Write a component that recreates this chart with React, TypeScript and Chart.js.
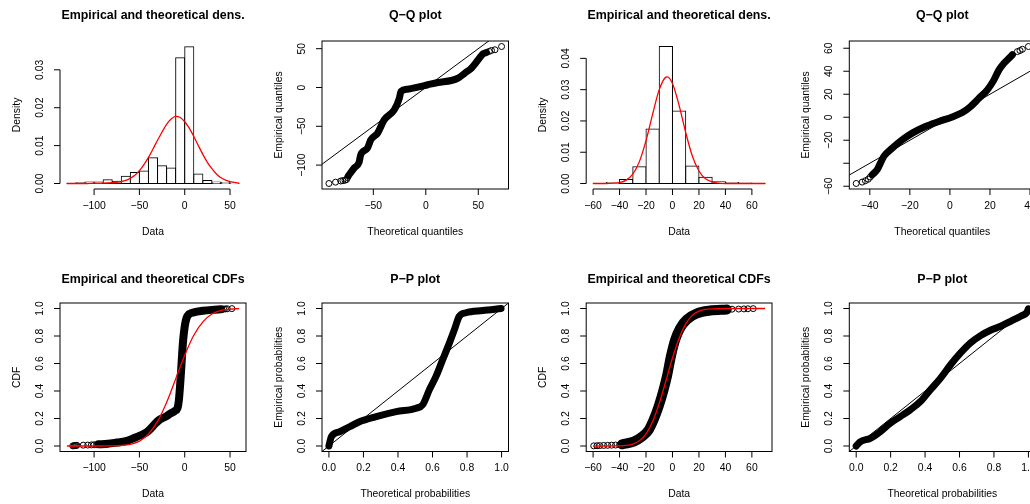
import React, { useEffect, useRef } from "react";
import { Chart, registerables } from "chart.js";

Chart.register(...registerables);

const FONT = '"Liberation Sans", Arial, Helvetica, sans-serif';
const MINUS = "\u2212";

// ---------- Sample A (left-skewed), normal fit ----------
const histMidsA = [-125, -115, -105, -95, -85, -75, -65, -55, -45, -35, -25, -15, -5, 5, 15, 25, 35, 45, 55];
const histDensA = [0.0001, 0.0002, 0.0004, 0.0004, 0.001, 0.0006, 0.0019, 0.0029, 0.0033, 0.0068, 0.0047, 0.0041, 0.0332, 0.0361, 0.0025, 0.0008, 0.0004, 0.00025, 0.0001];
const fitDensXA = [-130, -120, -110, -100, -90, -80, -70, -65, -60, -55, -50, -45, -40, -35, -30, -25, -20, -15, -10, -5, 0, 5, 10, 15, 20, 25, 30, 35, 40, 45, 50, 55, 60];
const fitDensYA = [0, 0, 0, 0.0001, 0.0001, 0.0002, 0.0005, 0.0008, 0.0014, 0.0022, 0.0034, 0.005, 0.0069, 0.0091, 0.0114, 0.0136, 0.0156, 0.017, 0.0177, 0.0174, 0.0163, 0.0146, 0.0124, 0.01, 0.0077, 0.0056, 0.0039, 0.0025, 0.0015, 0.0009, 0.0005, 0.0003, 0.0001];

const qqTheoA = [-73.8, -68.4, -63.6, -62, -55.6, -52.4, -46, -39.6, -30, -25.2, -23.7, -17.3, -7.7, 1.9, 11.5, 24.3, 30.7, 37.1, 43.4, 49.9, 54.6, 57.8];
const qqEmpA = [-113.8, -104, -96.6, -86.7, -78.2, -67.4, -58.9, -41.6, -28.7, -13.8, -5.2, -2.2, 0.4, 3.5, 6.4, 9, 12, 18.4, 24.9, 35.7, 43.4, 45.1];
const qqTailTheoA = [-92.3, -86, -81, -79, -77, -75.5, -74.5, 60.5, 62.6, 65.9, 72.2];
const qqTailEmpA = [-123.7, -122, -120.5, -120, -119.5, -118.5, -116, 46.5, 47.7, 48.6, 52.8];

const ecdfXA = [-95, -85, -75, -65, -55, -48, -42, -37, -33, -28, -22, -16, -11, -8, -6.5, -5, -3.5, -2, 0, 2, 5, 10, 20, 30, 40];
const ecdfYA = [0.012, 0.016, 0.025, 0.035, 0.06, 0.08, 0.1, 0.13, 0.16, 0.19, 0.21, 0.235, 0.255, 0.275, 0.33, 0.45, 0.6, 0.75, 0.87, 0.93, 0.96, 0.972, 0.983, 0.99, 0.995];
const ecdfTailXA = [-123.5, -122, -121, -120, -119, -112, -107, -103, -100, -97, 40, 43, 45, 47, 52];
const ecdfTailYA = [0.001, 0.002, 0.003, 0.004, 0.005, 0.006, 0.007, 0.008, 0.009, 0.01, 0.995, 0.996, 0.997, 0.998, 0.999];
const fitCdfXA = [-130, -100, -80, -70, -60, -50, -40, -30, -20, -10, 0, 10, 20, 30, 40, 50, 60];
const fitCdfYA = [0, 0.0001, 0.0008, 0.0035, 0.012, 0.035, 0.087, 0.179, 0.317, 0.488, 0.66, 0.805, 0.903, 0.96, 0.986, 0.996, 0.999];

const ppTheoA = [0, 0.014, 0.062, 0.12, 0.177, 0.274, 0.39, 0.505, 0.543, 0.582, 0.62, 0.659, 0.698, 0.727, 0.755, 0.794, 0.89, 0.997];
const ppEmpA = [0, 0.068, 0.104, 0.14, 0.177, 0.214, 0.25, 0.275, 0.3, 0.41, 0.506, 0.628, 0.75, 0.847, 0.944, 0.969, 0.985, 1.0];

// ---------- Sample B (near-symmetric), normal fit ----------
const histMidsB = [-55, -45, -35, -25, -15, -5, 5, 15, 25, 35, 45, 55, 65];
const histDensB = [0.0001, 0.0003, 0.0013, 0.0054, 0.0174, 0.0438, 0.0232, 0.0056, 0.002, 0.0006, 0.0003, 0.0002, 0.0001];
const fitDensXB = [-60, -50, -45, -40, -35, -30, -25, -20, -15, -10, -5, -4, 0, 5, 10, 15, 20, 25, 30, 35, 40, 50, 60, 70];
const fitDensYB = [0, 0, 0.0001, 0.0003, 0.0011, 0.003, 0.007, 0.0137, 0.0222, 0.03, 0.034, 0.0341, 0.032, 0.025, 0.0163, 0.0088, 0.004, 0.0015, 0.0005, 0.0001, 0, 0, 0, 0];

const qqTheoB = [-38.8, -36.3, -34.7, -33, -28.8, -23.8, -18.8, -12.2, -5.5, 1.2, 6.2, 10.3, 14.5, 18.7, 22, 24.5, 27, 29.5, 31.2];
const qqEmpB = [-50, -45.6, -39.9, -34, -26.9, -19.6, -13.8, -8, -3.7, 0.3, 4.1, 9.3, 16.5, 23.8, 32.5, 41.2, 47, 51.3, 54.3];
const qqTailTheoB = [-46.8, -43.8, -42.2, -40.8, -39.8, 33.7, 35, 36.2, 39.2];
const qqTailEmpB = [-57.6, -56.4, -55.2, -53.9, -52, 57.1, 58, 59.1, 61.5];

const ecdfXB = [-38, -36.9, -29.4, -23, -18, -14.3, -10.5, -6.7, -4.2, -1.2, 2.1, 5.9, 10.9, 18.5, 28.5, 41];
const ecdfYB = [0.012, 0.015, 0.031, 0.068, 0.117, 0.19, 0.287, 0.41, 0.506, 0.652, 0.774, 0.859, 0.92, 0.964, 0.985, 0.993];
const ecdfTailXB = [-59.5, -57, -55, -52, -49, -46, -43, -40, 45, 50, 54, 57, 61];
const ecdfTailYB = [0.001, 0.002, 0.003, 0.004, 0.005, 0.006, 0.007, 0.009, 0.995, 0.996, 0.997, 0.998, 0.999];
const fitCdfXB = [-60, -40, -35, -30, -25, -20, -15, -10, -5, 0, 5, 10, 15, 20, 25, 30, 40, 70];
const fitCdfYB = [0, 0.0011, 0.004, 0.0136, 0.0377, 0.0885, 0.178, 0.31, 0.473, 0.64, 0.784, 0.888, 0.95, 0.981, 0.994, 0.998, 1, 1];

const ppTheoB = [0, 0.023, 0.082, 0.14, 0.198, 0.256, 0.314, 0.373, 0.431, 0.49, 0.548, 0.606, 0.664, 0.722, 0.78, 0.839, 0.897, 0.955, 0.99, 1.0];
const ppEmpB = [0, 0.03, 0.056, 0.104, 0.166, 0.214, 0.263, 0.323, 0.409, 0.494, 0.591, 0.677, 0.75, 0.803, 0.842, 0.871, 0.907, 0.944, 0.97, 0.998];

// ---------- tick values ----------
const ticksDataA = [-100, -50, 0, 50];
const ticksDensA = [0, 0.01, 0.02, 0.03];
const ticksQqA = [-50, 0, 50];
const ticksQqEmpA = [-100, -50, 0, 50];
const ticksDataB = [-60, -40, -20, 0, 20, 40, 60];
const ticksDensB = [0, 0.01, 0.02, 0.03, 0.04];
const ticksQqB = [-40, -20, 0, 20, 40];
const ticksQqEmpB = [-60, -40, -20, 0, 20, 40, 60];
const ticksProb = [0, 0.2, 0.4, 0.6, 0.8, 1];

const zip = (xs: number[], ys: number[]) => xs.map((x, i) => ({ x, y: ys[i] }));
const fmtInt = (v: number) => (v < 0 ? MINUS + Math.abs(v) : String(v));
const fmtFix = (d: number) => (v: number) => v.toFixed(d);

type PanelSpec = {
  plot: [number, number, number, number];
  xRange: [number, number];
  yRange: [number, number];
  xTicks: number[];
  yTicks: number[];
  xFmt: (v: number) => string;
  yFmt: (v: number) => string;
  ySkip?: number[];
  title: string;
  xTitle: string;
  yTitle: string;
  framed: boolean;
  kind: "bar" | "scatter";
  datasets: any[];
  titleGap: number;
};

const TICK = 6;
const AXIS_FONT = `10.4px ${FONT}`;
const TITLE_FONT = `bold 12.4px ${FONT}`;

// R-style frame, axes, tick labels and titles drawn from the chart's own scales
function decor(spec: PanelSpec) {
  return {
    id: "decor",
    afterDatasetsDraw(chart: any) {
      const ctx: CanvasRenderingContext2D = chart.ctx;
      const { left, top, right, bottom } = chart.chartArea;
      const xs = chart.scales.x;
      const ys = chart.scales.y;
      ctx.save();
      ctx.strokeStyle = "#000";
      ctx.fillStyle = "#000";
      ctx.lineWidth = 1;
      if (spec.framed) ctx.strokeRect(left, top, right - left, bottom - top);

      const xp = spec.xTicks.map((v) => xs.getPixelForValue(v));
      const yp = spec.yTicks.map((v) => ys.getPixelForValue(v));
      ctx.beginPath();
      if (!spec.framed) {
        ctx.moveTo(xp[0], bottom);
        ctx.lineTo(xp[xp.length - 1], bottom);
        ctx.moveTo(left, yp[0]);
        ctx.lineTo(left, yp[yp.length - 1]);
      }
      xp.forEach((p) => {
        ctx.moveTo(p, bottom);
        ctx.lineTo(p, bottom + TICK);
      });
      yp.forEach((p) => {
        ctx.moveTo(left, p);
        ctx.lineTo(left - TICK, p);
      });
      ctx.stroke();

      ctx.font = AXIS_FONT;
      ctx.textAlign = "center";
      ctx.textBaseline = "middle";
      spec.xTicks.forEach((v, i) => ctx.fillText(spec.xFmt(v), xp[i], bottom + 17));
      spec.yTicks.forEach((v, i) => {
        if (spec.ySkip && spec.ySkip.includes(v)) return;
        ctx.save();
        ctx.translate(left - 20, yp[i]);
        ctx.rotate(-Math.PI / 2);
        ctx.fillText(spec.yFmt(v), 0, 0);
        ctx.restore();
      });

      const cx = (left + right) / 2;
      const cy = (top + bottom) / 2;
      ctx.fillText(spec.xTitle, cx, bottom + 43);
      ctx.save();
      ctx.translate(left - 43, cy);
      ctx.rotate(-Math.PI / 2);
      ctx.fillText(spec.yTitle, 0, 0);
      ctx.restore();

      ctx.font = TITLE_FONT;
      ctx.textBaseline = "alphabetic";
      ctx.fillText(spec.title, cx, top - spec.titleGap);
      ctx.restore();
    },
  };
}

function Panel({ spec }: { spec: PanelSpec }) {
  const ref = useRef<HTMLCanvasElement>(null);
  const [l, t, r, b] = spec.plot;
  const cLeft = Math.floor(l - 75);
  const cTop = Math.floor(t - 45);
  const width = Math.ceil(r + 14) - cLeft;
  const height = Math.ceil(b + 60) - cTop;

  useEffect(() => {
    const chart = new Chart(ref.current as HTMLCanvasElement, {
      type: spec.kind,
      data: { datasets: spec.datasets },
      options: {
        responsive: false,
        animation: false,
        devicePixelRatio: 1,
        events: [],
        layout: {
          padding: { left: l - cLeft, top: t - cTop, right: cLeft + width - r, bottom: cTop + height - b },
        },
        plugins: { legend: { display: false }, tooltip: { enabled: false }, title: { display: false } },
        scales: {
          x: { type: "linear", display: false, offset: false, min: spec.xRange[0], max: spec.xRange[1], ticks: { stepSize: 1000 }, grid: { display: false } },
          y: { type: "linear", display: false, min: spec.yRange[0], max: spec.yRange[1], ticks: { stepSize: 1000 }, grid: { display: false } },
        },
      } as any,
      plugins: [decor(spec)],
    });
    return () => chart.destroy();
  }, []);

  return (
    <canvas
      ref={ref}
      width={width}
      height={height}
      style={{ position: "absolute", left: cLeft, top: cTop, width, height }}
    />
  );
}

const histSet = (mids: number[], dens: number[]) => ({
  type: "bar",
  data: zip(mids, dens),
  backgroundColor: "#ffffff",
  borderColor: "#000000",
  borderWidth: 1,
  borderSkipped: false,
  inflateAmount: 0.5,
  barPercentage: 1,
  categoryPercentage: 1,
  order: 2,
});
const redLine = (xs: number[], ys: number[]) => ({
  type: "line",
  data: zip(xs, ys),
  borderColor: "#ff0000",
  borderWidth: 1.3,
  pointRadius: 0,
  cubicInterpolationMode: "monotone",
  fill: false,
  clip: 0,
  order: 0,
});
const band = (xs: number[], ys: number[], w = 7) => ({
  type: "line",
  data: zip(xs, ys),
  borderColor: "#000000",
  borderWidth: w,
  borderCapStyle: "round",
  borderJoinStyle: "round",
  pointRadius: 0,
  cubicInterpolationMode: "monotone",
  fill: false,
  clip: 0,
  order: 2,
});
const circles = (xs: number[], ys: number[]) => ({
  type: "scatter",
  data: zip(xs, ys),
  showLine: false,
  pointStyle: "circle",
  pointRadius: 3,
  pointBorderWidth: 1,
  pointBorderColor: "#000000",
  pointBackgroundColor: "rgba(0,0,0,0)",
  clip: 0,
  order: 2,
});
const diagonal = (lo: number, hi: number) => ({
  type: "line",
  data: [
    { x: lo, y: lo },
    { x: hi, y: hi },
  ],
  borderColor: "#000000",
  borderWidth: 1,
  pointRadius: 0,
  fill: false,
  clip: 0,
  order: 0,
});

const COLS: [number, number][] = [
  [60, 246],
  [322, 508.5],
  [586.2, 772],
  [849.3, 1035.3],
];
const ROWS: [number, number][] = [
  [41, 189],
  [303, 451.5],
];
const box = (c: number, r: number): [number, number, number, number] => [COLS[c][0], ROWS[r][0], COLS[c][1], ROWS[r][1]];

const PANELS: PanelSpec[] = [
  {
    plot: box(0, 0), xRange: [-137.6, 67.6], yRange: [-0.00145, 0.0376],
    xTicks: ticksDataA, yTicks: ticksDensA, xFmt: fmtInt, yFmt: fmtFix(2),
    title: "Empirical and theoretical dens.", xTitle: "Data", yTitle: "Density",
    framed: false, kind: "bar", titleGap: 22,
    datasets: [redLine(fitDensXA, fitDensYA), histSet(histMidsA, histDensA)],
  },
  {
    plot: box(1, 0), xRange: [-98.9, 78.8], yRange: [-130.8, 59.9],
    xTicks: ticksQqA, yTicks: ticksQqEmpA, xFmt: fmtInt, yFmt: fmtInt,
    title: "Q\u2212Q plot", xTitle: "Theoretical quantiles", yTitle: "Empirical quantiles",
    framed: true, kind: "scatter", titleGap: 22,
    datasets: [diagonal(-300, 300), band(qqTheoA, qqEmpA), circles(qqTailTheoA, qqTailEmpA)],
  },
  {
    plot: box(2, 0), xRange: [-65.2, 75.2], yRange: [-0.00175, 0.04555],
    xTicks: ticksDataB, yTicks: ticksDensB, xFmt: fmtInt, yFmt: fmtFix(2),
    title: "Empirical and theoretical dens.", xTitle: "Data", yTitle: "Density",
    framed: false, kind: "bar", titleGap: 22,
    datasets: [redLine(fitDensXB, fitDensYB), histSet(histMidsB, histDensB)],
  },
  {
    plot: box(3, 0), xRange: [-50.24, 42.64], yRange: [-62.4, 66.3],
    xTicks: ticksQqB, yTicks: ticksQqEmpB, xFmt: fmtInt, yFmt: fmtInt, ySkip: [-40],
    title: "Q\u2212Q plot", xTitle: "Theoretical quantiles", yTitle: "Empirical quantiles",
    framed: true, kind: "scatter", titleGap: 22,
    datasets: [diagonal(-300, 300), band(qqTheoB, qqEmpB), circles(qqTailTheoB, qqTailEmpB)],
  },
  {
    plot: box(0, 1), xRange: [-137.6, 67.6], yRange: [-0.04, 1.04],
    xTicks: ticksDataA, yTicks: ticksProb, xFmt: fmtInt, yFmt: fmtFix(1),
    title: "Empirical and theoretical CDFs", xTitle: "Data", yTitle: "CDF",
    framed: true, kind: "scatter", titleGap: 20,
    datasets: [redLine(fitCdfXA, fitCdfYA), band(ecdfXA, ecdfYA, 8), circles(ecdfTailXA, ecdfTailYA)],
  },
  {
    plot: box(1, 1), xRange: [-0.04, 1.04], yRange: [-0.04, 1.04],
    xTicks: ticksProb, yTicks: ticksProb, xFmt: fmtFix(1), yFmt: fmtFix(1),
    title: "P\u2212P plot", xTitle: "Theoretical probabilities", yTitle: "Empirical probabilities",
    framed: true, kind: "scatter", titleGap: 20,
    datasets: [diagonal(-2, 3), band(ppTheoA, ppEmpA)],
  },
  {
    plot: box(2, 1), xRange: [-65.2, 75.2], yRange: [-0.04, 1.04],
    xTicks: ticksDataB, yTicks: ticksProb, xFmt: fmtInt, yFmt: fmtFix(1),
    title: "Empirical and theoretical CDFs", xTitle: "Data", yTitle: "CDF",
    framed: true, kind: "scatter", titleGap: 20,
    datasets: [redLine(fitCdfXB, fitCdfYB), band(ecdfXB, ecdfYB, 10), circles(ecdfTailXB, ecdfTailYB)],
  },
  {
    plot: box(3, 1), xRange: [-0.04, 1.04], yRange: [-0.04, 1.04],
    xTicks: ticksProb, yTicks: ticksProb, xFmt: fmtFix(1), yFmt: fmtFix(1),
    title: "P\u2212P plot", xTitle: "Theoretical probabilities", yTitle: "Empirical probabilities",
    framed: true, kind: "scatter", titleGap: 20,
    datasets: [diagonal(-2, 3), band(ppTheoB, ppEmpB)],
  },
];

export default function App() {
  return (
    <div
      style={{
        position: "fixed",
        left: 0,
        top: 0,
        width: 1030,
        height: 504,
        overflow: "hidden",
        background: "#ffffff",
      }}
    >
      {PANELS.map((p, i) => (
        <Panel key={i} spec={p} />
      ))}
    </div>
  );
}
